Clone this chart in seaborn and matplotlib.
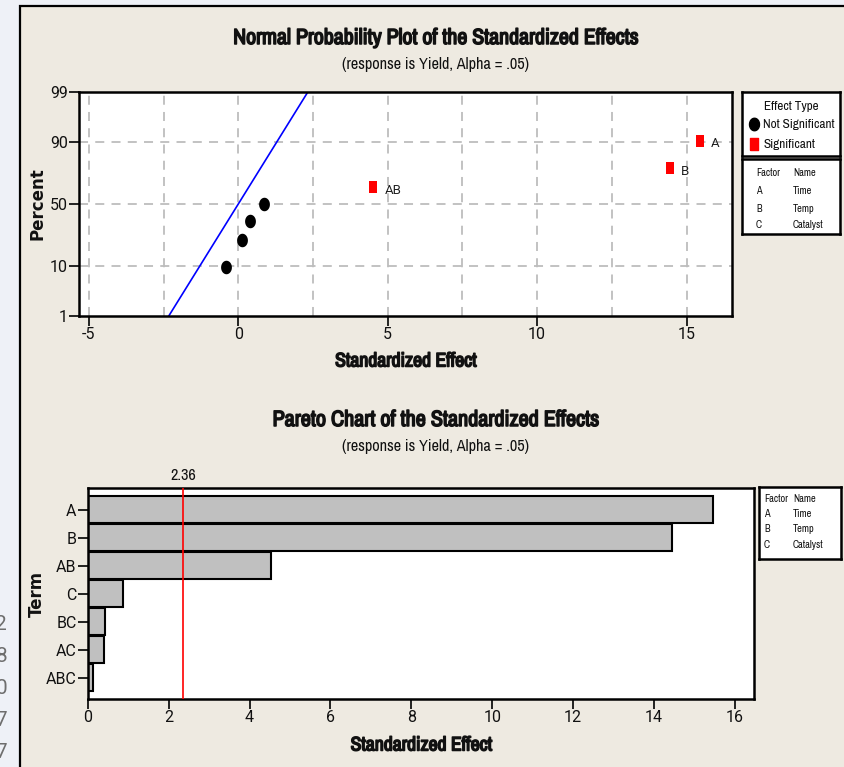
import statistics
import numpy as np
import pandas as pd
import matplotlib
matplotlib.use("Agg")
import matplotlib.pyplot as plt
import matplotlib.patheffects as pe
from matplotlib import font_manager
from matplotlib.font_manager import FontProperties
from matplotlib.patches import Rectangle
import seaborn as sns

# ---------------- data ----------------
terms = ["A", "B", "AB", "C", "BC", "AC", "ABC"]
effects = [15.45, 14.44, 4.52, 0.87, -0.42, 0.40, 0.13]   # signed standardized effects
critical_value = 2.36
line_sigma = 1.0                                           # fitted line slope (effect per z)
pct_ticks = [1, 10, 50, 90, 99]
normal_xticks = [-5, 0, 5, 10, 15]
pareto_xticks = [0, 2, 4, 6, 8, 10, 12, 14, 16]
factors = ["A", "B", "C"]
factor_names = ["Time", "Temp", "Catalyst"]
side_digits = ["2", "8", "0", "7", "7"]

# ---------------- fonts ----------------
flist = font_manager.fontManager.ttflist
NARROW = None
for f in flist:
    if "Narrow" in f.name or "Condensed" in f.name:
        NARROW = f.name
        break
if NARROW is None:
    NARROW = "Liberation Sans"

def _wt(f):
    try:
        return int(f.weight)
    except Exception:
        return {"normal": 400, "regular": 400, "book": 400}.get(str(f.weight), 0)

TICK_FILE = None
for fam in ("Roboto", "Liberation Sans", "Open Sans", "Noto Sans"):
    for f in flist:
        low = f.fname.lower()
        if (f.name == fam and f.style == "normal" and _wt(f) == 400
                and "condensed" not in low and "narrow" not in low
                and str(f.stretch) == "normal"):
            TICK_FILE = f.fname
            break
    if TICK_FILE:
        break

def tick_fp(size):
    if TICK_FILE:
        return FontProperties(fname=TICK_FILE, size=size)
    return FontProperties(family="DejaVu Sans", size=size * 0.92)

WIDEB = "DejaVu Sans"

sns.set_theme(style="white")
plt.rcParams["font.family"] = ["DejaVu Sans"]

W, H = 844, 767
fig = plt.figure(figsize=(W / 100, H / 100), dpi=100)
fig.patch.set_facecolor("#EEF1F7")

def fx(x): return x / W
def fy(y): return 1 - y / H
def box(x0, y0, x1, y1): return [fx(x0), fy(y1), (x1 - x0) / W, (y1 - y0) / H]

# beige panel with black frame
fig.patches.append(Rectangle((fx(20), -0.01), 1.0, fy(6) + 0.01, transform=fig.transFigure,
                             facecolor="#EEEAE1", edgecolor="black", linewidth=1.6, zorder=-10))
for i, d in enumerate(side_digits):
    fig.text(fx(7), fy(624 + 32 * i), d, ha="right", va="center",
             fontproperties=tick_fp(15), color="#6E6E6E")

fit_list = []   # (group of texts, reference text, target width px)
BOLD_FX = [pe.withStroke(linewidth=1.1, foreground="#111111")]

def ntext(*args, bold=False, **kw):
    kw.setdefault("family", NARROW)
    kw.setdefault("color", "#111111")
    t = fig.text(*args, **kw)
    if bold:
        t.set_path_effects(BOLD_FX)
    return t

def fit(t, target, group=None):
    fit_list.append((group or [t], t, target))

nd = statistics.NormalDist()

# ---------------- normal probability plot ----------------
df = pd.DataFrame({"term": terms, "effect": effects})
df["abs"] = df["effect"].abs()
df = df.sort_values("effect").reset_index(drop=True)
n = len(df)
df["z"] = [nd.inv_cdf((i + 1 - 0.3) / (n + 0.4)) for i in range(n)]
df["sig"] = df["abs"] > critical_value

ax1 = fig.add_axes(box(79, 92, 732, 316))
ax1.set_facecolor("white")
zlo, zhi = nd.inv_cdf(0.01), nd.inv_cdf(0.99)
ax1.set_xlim(-5.33, 16.52)
ax1.set_ylim(zlo, zhi)

for gx in np.arange(-5, 16, 2.5):
    ax1.axvline(gx, color="#BDBDBD", lw=1.3, ls=(0, (5, 4)), zorder=0)
for p in [10, 50, 90]:
    ax1.axhline(nd.inv_cdf(p / 100), color="#BDBDBD", lw=1.3, ls=(0, (5, 4)), zorder=0)

lx = np.array([-3.0, 3.0])
sns.lineplot(x=lx, y=lx / line_sigma, ax=ax1, color="#0000FF", lw=1.2, sort=False, zorder=2)

ns = df[~df["sig"]]
sg = df[df["sig"]]
ell_marker = [(np.cos(a) * 0.4, np.sin(a) * 0.5) for a in np.linspace(0, 2 * np.pi, 41)]
sns.scatterplot(data=ns, x="effect", y="z", ax=ax1, color="black", marker=ell_marker,
                s=95, edgecolor="black", linewidth=0, zorder=3)
rect_marker = [(-0.33, -0.5), (0.33, -0.5), (0.33, 0.5), (-0.33, 0.5), (-0.33, -0.5)]
sns.scatterplot(data=sg, x="effect", y="z", ax=ax1, color="#FF0000", marker=rect_marker,
                s=85, edgecolor="#FF0000", linewidth=0, zorder=3)
for _, r in sg.iterrows():
    ax1.annotate(r["term"], (r["effect"], r["z"]), xytext=(8, -2), textcoords="offset points",
                 va="center", ha="left", fontproperties=tick_fp(9.5), color="#222222")

ax1.set_xticks(normal_xticks)
ax1.set_xticklabels([str(t) for t in normal_xticks])
ax1.set_yticks([nd.inv_cdf(p / 100) for p in pct_ticks])
ax1.set_yticklabels([str(p) for p in pct_ticks])
ax1.set_xlabel("")
ax1.set_ylabel("")

# ---------------- pareto chart ----------------
pdf = pd.DataFrame({"term": terms, "abs": [abs(e) for e in effects]})
pdf = pdf.sort_values("abs", ascending=False).reset_index(drop=True)

ax2 = fig.add_axes(box(87.7, 487.7, 754, 699.3))
ax2.set_facecolor("white")
sns.barplot(data=pdf, x="abs", y="term", order=list(pdf["term"]), orient="h",
            color="#C0C0C0", saturation=1, edgecolor="black", linewidth=1.5,
            width=0.97, ax=ax2, zorder=2)
ax2.axvline(critical_value, color="#FF0000", lw=1.2, zorder=3)
ax2.set_xlim(0, 16.47)
ax2.set_ylim(6.77, -0.79)
ax2.set_xticks(pareto_xticks)
ax2.set_xticklabels([str(t) for t in pareto_xticks])
ax2.set_xlabel("")
ax2.set_ylabel("")
t = ntext(fx(87.7 + critical_value * 40.45), fy(476), f"{critical_value:.2f}",
          ha="center", va="center", fontsize=10.5)
fit(t, 26)

for ax in (ax1, ax2):
    for s in ax.spines.values():
        s.set_visible(True)
        s.set_color("black")
        s.set_linewidth(1.8)
    ax.tick_params(axis="both", which="major", direction="out", length=7, width=1.2,
                   color="black", labelcolor="#111111", pad=1,
                   bottom=True, left=True)
    for lab in ax.get_xticklabels() + ax.get_yticklabels():
        lab.set_fontproperties(tick_fp(11.5))

# ---------------- titles and axis labels ----------------
t = ntext(fx(436), fy(38), "Normal Probability Plot of the Standardized Effects", ha="center",
          va="center", fontsize=13, bold=True)
fit(t, 407)
t = ntext(fx(436), fy(64), "(response is Yield, Alpha = .05)", ha="center", va="center",
          fontsize=10.5)
fit(t, 188)
t = ntext(fx(405.5), fy(361), "Standardized Effect", ha="center", va="center",
          fontsize=11, bold=True)
fit(t, 142)
fig.text(fx(37), fy(204), "Percent", ha="center", va="center", rotation=90,
         fontsize=12, fontweight="bold", family=WIDEB, color="#111111")

t = ntext(fx(436), fy(420), "Pareto Chart of the Standardized Effects", ha="center",
          va="center", fontsize=13, bold=True)
fit(t, 328)
t = ntext(fx(436), fy(446), "(response is Yield, Alpha = .05)", ha="center", va="center",
          fontsize=10.5)
fit(t, 188)
t = ntext(fx(421), fy(745), "Standardized Effect", ha="center", va="center",
          fontsize=11, bold=True)
fit(t, 142)
fig.text(fx(37), fy(594), "Term", ha="center", va="center", rotation=90,
         fontsize=12, fontweight="bold", family=WIDEB, color="#111111")

# ---------------- legend boxes ----------------
def legend_axes(x0, y0, x1, y1):
    a = fig.add_axes(box(x0, y0, x1, y1))
    a.set_xlim(x0, x1)
    a.set_ylim(y1, y0)
    a.set_xticks([])
    a.set_yticks([])
    a.set_facecolor("white")
    for s in a.spines.values():
        s.set_visible(True)
        s.set_color("black")
        s.set_linewidth(1.8)
    return a

lg = legend_axes(742, 92, 840, 156)
t1 = ntext(fx(791), fy(106), "Effect Type", ha="center", va="center", fontsize=8.5)
lg.plot([754], [124], marker=ell_marker, color="black", markersize=9, ls="none")
t2 = ntext(fx(763), fy(124), "Not Significant", ha="left", va="center", fontsize=8.5)
lg.plot([754], [144], marker=rect_marker, color="#FF0000", markersize=9, ls="none")
t3 = ntext(fx(763), fy(144), "Significant", ha="left", va="center", fontsize=8.5)
fit(t2, 72, [t1, t2, t3])

def factor_table(rows_y, cx1, cx2, wfac):
    ref = ntext(fx(cx1), fy(rows_y[0]), "Factor", ha="left", va="center", fontsize=7.5)
    grp = [ref, ntext(fx(cx2), fy(rows_y[0]), "Name", ha="left", va="center", fontsize=7.5)]
    for f, nm, yy in zip(factors, factor_names, rows_y[1:]):
        grp.append(ntext(fx(cx1), fy(yy), f, ha="left", va="center", fontsize=7.5))
        grp.append(ntext(fx(cx2), fy(yy), nm, ha="left", va="center", fontsize=7.5))
    fit(ref, wfac, grp)

legend_axes(742, 159, 840, 234)
factor_table([173, 191, 209, 225], 756, 793, 24)
legend_axes(759, 487, 841, 559)
factor_table([499, 514, 529, 545], 764, 793, 24)

# scale texts to the widths measured on the reference
fig.canvas.draw()
r = fig.canvas.get_renderer()
for grp, ref, target in fit_list:
    w = ref.get_window_extent(renderer=r).width
    if w > 0:
        k = target / w
        for tt in grp:
            tt.set_fontsize(tt.get_fontsize() * k)

fig.savefig("out.png", dpi=100, facecolor=fig.get_facecolor())
